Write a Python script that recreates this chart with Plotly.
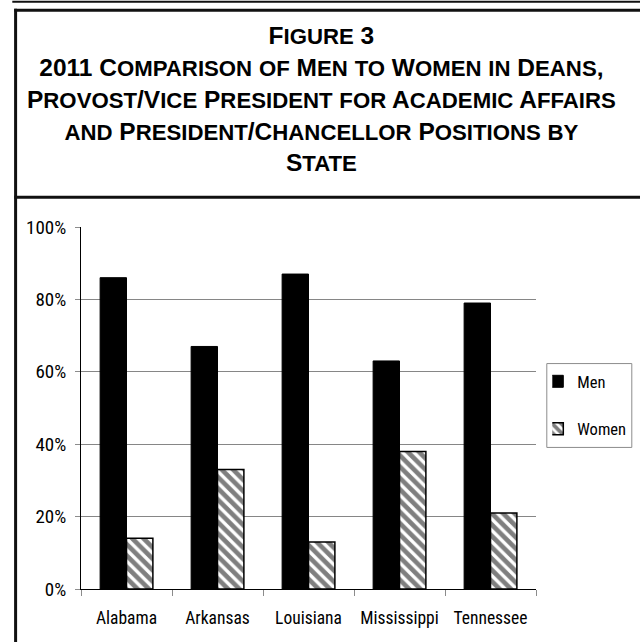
import plotly.graph_objects as go

# Share of positions held by men and women, by state (2011)
states = ["Alabama", "Arkansas", "Louisiana", "Mississippi", "Tennessee"]
men = [86, 67, 87, 63, 79]
women = [14, 33, 13, 38, 21]
y_ticks = [0, 20, 40, 60, 80, 100]
y_tick_text = [f"{v}%" for v in y_ticks]

title_lines = [
    "Figure 3",
    "2011 Comparison of Men to Women in Deans,",
    "Provost/Vice President for Academic Affairs",
    "and President/Chancellor Positions by",
    "State",
]

W, H = 640, 642
# plot area in pixels
L, R, T, B = 80.7, 535.7, 226.7, 589.3


def px(x):
    return (x - L) / (R - L)


def py(y):
    return (B - y) / (B - T)


def small_caps(line, small_size):
    """Upper-case the text, drawing originally lower-case letters at a reduced size."""
    out, run, run_small = [], "", None
    for ch in line:
        is_small = ch.islower()
        if run and is_small != run_small:
            out.append(f'<span style="font-size:{small_size}px">{run}</span>' if run_small else run)
            run = ""
        run += ch.upper()
        run_small = is_small
    if run:
        out.append(f'<span style="font-size:{small_size}px">{run}</span>' if run_small else run)
    return "".join(out)


NARROW = "Roboto Condensed, Liberation Sans Narrow, sans-serif"
TITLE_FONT = "Liberation Sans, Arial, sans-serif"
TITLE_SIZE = 24.5
TITLE_SMALL = 22.2

fig = go.Figure()
fig.add_bar(
    x=states, y=men, name="Men",
    marker=dict(color="black", line=dict(color="black", width=1)),
    legendgroup="men",
)
fig.add_bar(
    x=states, y=women, name="Women",
    marker=dict(
        color="white",
        line=dict(color="black", width=1.5),
        pattern=dict(shape="\\", fgcolor="black", bgcolor="white", size=8, solidity=0.58),
    ),
    legendgroup="women",
)

frame = "#111111"
shapes = [
    # rule above the box
    dict(type="line", xref="paper", yref="paper", x0=px(12), x1=px(642), y0=py(1), y1=py(1),
         line=dict(color=frame, width=2)),
    # box top
    dict(type="line", xref="paper", yref="paper", x0=px(14), x1=px(642), y0=py(9.5), y1=py(9.5),
         line=dict(color=frame, width=3)),
    # box left
    dict(type="line", xref="paper", yref="paper", x0=px(15.3), x1=px(15.3), y0=py(8), y1=py(645),
         line=dict(color=frame, width=3)),
    # separator between heading and chart
    dict(type="line", xref="paper", yref="paper", x0=px(14), x1=px(642), y0=py(197), y1=py(197),
         line=dict(color=frame, width=3)),
    # legend frame
    dict(type="rect", xref="paper", yref="paper", x0=px(546.5), x1=px(631.5), y0=py(363.5), y1=py(447.5),
         line=dict(color="#8c8c8c", width=1), fillcolor="rgba(0,0,0,0)"),
]

title_text = "<br>".join(small_caps(t, TITLE_SMALL) for t in title_lines)

fig.update_layout(
    width=W, height=H,
    margin=dict(l=L, r=W - R, t=T, b=H - B, pad=0, autoexpand=False),
    paper_bgcolor="white", plot_bgcolor="white",
    barmode="group", bargap=0.42, bargroupgap=0,
    font=dict(family=NARROW, size=19, color="black"),
    showlegend=True,
    legend=dict(
        x=px(552), y=py(364), xanchor="left", yanchor="top",
        borderwidth=0, bgcolor="rgba(0,0,0,0)",
        font=dict(family=NARROW, size=16.5, color="black"),
        traceorder="grouped", tracegroupgap=23,
        itemwidth=30, indentation=-15,
    ),
    xaxis=dict(
        showline=True, linecolor="black", linewidth=1,
        ticks="outside", tickson="boundaries", ticklen=6, tickcolor="#8c8c8c",
        showgrid=False, tickfont=dict(family=NARROW, size=17.5), tickangle=0,
        ticklabelstandoff=13,
    ),
    yaxis=dict(
        range=[0, 100], tickvals=y_ticks, ticktext=y_tick_text,
        showline=True, linecolor="black", linewidth=1,
        ticks="outside", ticklen=5, tickcolor="#8c8c8c",
        showgrid=True, gridcolor="#868686", gridwidth=1,
        zeroline=False, tickfont=dict(family=NARROW, size=19),
        ticklabelstandoff=5,
    ),
    shapes=shapes,
    annotations=[
        dict(
            xref="paper", yref="paper", x=px(321), y=py(19), xanchor="center", yanchor="top",
            text=title_text, showarrow=False, align="center",
            font=dict(family=TITLE_FONT, size=TITLE_SIZE, color="black", weight=700),
        )
    ],
)

fig.write_html("out.html")
